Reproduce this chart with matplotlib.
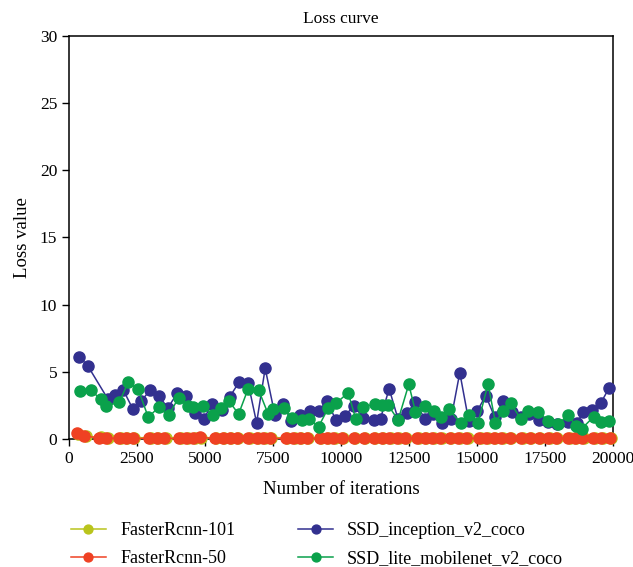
import matplotlib.pyplot as plt

plt.rcParams['font.family'] = ['Liberation Serif', 'DejaVu Serif']

# SSD_inception_v2_coco
inc_x = [368, 687, 1423, 1691, 1996, 2342, 2647, 2989, 3320, 3628, 3981, 4312, 4621, 4952,
         5268, 5613, 5918, 6249, 6591, 6900, 7216, 7573, 7878, 8172, 8503, 8848, 9179, 9484,
         9826, 10146, 10477, 10819, 11223, 11458, 11775, 12105, 12425, 12745, 13087, 13407,
         13723, 14054, 14374, 14705, 15010, 15330, 15661, 15966, 16312, 16617, 16910, 17278,
         17620, 17951, 18355, 18686, 18907, 19252, 19569, 19863]
inc_y = [6.13, 5.46, 3.0, 3.28, 3.65, 2.26, 2.81, 3.65, 3.22, 2.29, 3.40, 3.22, 1.96, 1.49,
         2.61, 2.16, 3.15, 4.22, 4.15, 1.21, 5.26, 1.79, 2.61, 1.32, 1.81, 2.06, 2.11, 2.81,
         1.39, 1.71, 2.48, 1.59, 1.41, 1.51, 3.75, 1.47, 1.91, 2.76, 1.49, 1.86,
         1.19, 1.51, 4.94, 1.32, 2.08, 3.22, 1.62, 2.83, 2.03, 1.64, 1.86, 1.41,
         1.29, 1.12, 1.29, 1.21, 1.99, 2.16, 2.70, 3.80]

# SSD_lite_mobilenet_v2_coco
lite_x = [404, 798, 1165, 1349, 1849, 2180, 2547, 2915, 3297, 3665, 4033, 4374, 4547, 4926,
          5304, 5577, 5882, 6238, 6591, 6974, 7326, 7510, 7903, 8187, 8554, 8811, 9179, 9532,
          9826, 10267, 10550, 10819, 11249, 11495, 11737, 12105, 12498, 12745, 13112, 13417,
          13700, 13968, 14410, 14704, 15046, 15414, 15686, 15966, 16249, 16617, 16885, 17252,
          17620, 17987, 18370, 18638, 18858, 19300, 19557, 19863]
lite_y = [3.57, 3.65, 2.96, 2.46, 2.73, 4.24, 3.70, 1.62, 2.36, 1.76, 3.08, 2.46, 2.41, 2.48,
          1.79, 2.31, 2.83, 1.86, 3.75, 3.65, 1.86, 2.21, 2.29, 1.59, 1.39, 1.51, 0.92, 2.29,
          2.66, 3.45, 1.47, 2.41, 2.58, 2.53, 2.53, 1.41, 4.07, 2.03, 2.48, 2.06,
          1.62, 2.23, 1.17, 1.79, 1.21, 4.10, 1.21, 2.11, 2.66, 1.49, 2.06, 2.03,
          1.36, 1.12, 1.79, 0.99, 0.77, 1.66, 1.29, 1.36]

# FasterRcnn-50
r50_x = [283, 562, 1114, 1360, 1849, 2095, 2342, 2952, 3224, 3503, 4055, 4301, 4569, 4816,
         5367, 5650, 5918, 6165, 6591, 6900, 7142, 7389, 7977, 8245, 8492, 8738, 9227, 9473,
         9716, 10025, 10477, 10844, 11212, 11495, 11775, 12068, 12351, 12804, 13087, 13370,
         13664, 14006, 14311, 14620, 15083, 15355, 15623, 15906, 16211, 16641, 16947, 17289,
         17620, 17902, 18354, 18601, 18884, 19274, 19582, 19887]
r50_y = [0.45, 0.25, 0.06, 0.05, 0.06, 0.05, 0.05, 0.05, 0.06, 0.05, 0.05, 0.05, 0.05, 0.12,
         0.05, 0.05, 0.05, 0.05, 0.05, 0.05, 0.05, 0.05, 0.05, 0.05, 0.05, 0.05, 0.05, 0.05,
         0.05, 0.05, 0.05, 0.05, 0.05, 0.05, 0.05, 0.05, 0.05, 0.05, 0.05, 0.05,
         0.05, 0.05, 0.05, 0.05, 0.05, 0.05, 0.05, 0.05, 0.05, 0.05, 0.05, 0.05,
         0.05, 0.05, 0.05, 0.05, 0.05, 0.05, 0.05, 0.05]

# FasterRcnn-101
r101_x = [340, 620, 1170, 1420, 1900, 2150, 2400, 3010, 3280, 3560, 4110, 4360, 4620, 4870,
          5420, 5700, 5970, 6220, 6640, 6950, 7200, 7440, 8030, 8300, 8550, 8790, 9280, 9530,
          9770, 10080, 10530, 10900, 11270, 11550, 11830, 12120, 12400, 12860, 13140, 13420,
          13720, 14060, 14370, 14680, 15140, 15410, 15680, 15960, 16270, 16700, 17000, 17340,
          17680, 17960, 18410, 18660, 18940, 19330, 19640, 19940]
r101_y = [0.35, 0.2, 0.12, 0.1, 0.1, 0.1, 0.1, 0.1, 0.1, 0.1, 0.1, 0.1, 0.1, 0.1,
          0.1, 0.1, 0.1, 0.1, 0.1, 0.1, 0.1, 0.1, 0.1, 0.1, 0.1, 0.1, 0.1, 0.1,
          0.1, 0.1, 0.1, 0.1, 0.1, 0.1, 0.1, 0.1, 0.1, 0.1, 0.1, 0.1,
          0.1, 0.1, 0.1, 0.1, 0.1, 0.1, 0.1, 0.1, 0.1, 0.1, 0.1, 0.1,
          0.1, 0.1, 0.1, 0.1, 0.1, 0.1, 0.1, 0.1]

fig = plt.figure(figsize=(6.33, 5.67), dpi=100)
ax = fig.add_axes([0.109, 0.2257, 0.859, 0.711])

ms = 8
lw = 1.1
h1, = ax.plot(r101_x, r101_y, color='#b9c41c', marker='o', ms=ms, lw=lw, clip_on=False, zorder=3,
              label='FasterRcnn-101')
h2, = ax.plot(r50_x, r50_y, color='#ef4123', marker='o', ms=ms, lw=lw, clip_on=False, zorder=4,
              label='FasterRcnn-50')
h3, = ax.plot(inc_x, inc_y, color='#32308f', marker='o', ms=ms, lw=lw, clip_on=False, zorder=3,
              label='SSD_inception_v2_coco')
h4, = ax.plot(lite_x, lite_y, color='#0aa14b', marker='o', ms=ms, lw=lw, clip_on=False, zorder=4,
              label='SSD_lite_mobilenet_v2_coco')

ax.set_xlim(0, 20000)
ax.set_ylim(0, 30)
ax.set_xticks([0, 2500, 5000, 7500, 10000, 12500, 15000, 17500, 20000])
ax.set_yticks([0, 5, 10, 15, 20, 25, 30])
ax.tick_params(axis='both', labelsize=12.5, length=5, width=1)
for s in ax.spines.values():
    s.set_linewidth(1.1)

ax.set_title('Loss curve', fontsize=12.5, pad=9)
ax.set_xlabel('Number of iterations', fontsize=13.5, labelpad=10)
ax.set_ylabel('Loss value', fontsize=13.5, labelpad=6)

fig.legend(handles=[h1, h2, h3, h4], loc='upper left', bbox_to_anchor=(0.087, 0.108),
           ncol=2, frameon=False, fontsize=13, handlelength=1.9, handletextpad=0.8,
           columnspacing=3.5, labelspacing=0.6, markerscale=0.8)

fig.savefig('out.png', dpi=100)
